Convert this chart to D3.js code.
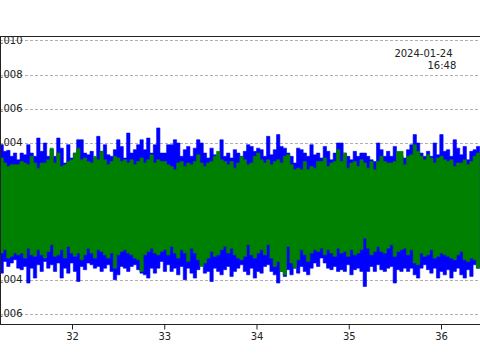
<!DOCTYPE html>
<html><head><meta charset="utf-8">
<script src="https://cdn.jsdelivr.net/npm/d3@7"></script>
<style>html,body{margin:0;padding:0;background:#fff;overflow:hidden}</style>
</head><body><svg id="c" width="480" height="360"></svg>
<script>
// ---- data (values in units of 1e-4) ----
const xTicks = [32, 33, 34, 35, 36];
const yTicks = [-0.006, -0.004, -0.002, 0, 0.002, 0.004, 0.006, 0.008, 0.010];
const stampLines = ["2024-01-24", "16:48"];
const tStart = 31.22, tEnd = 36.42;
const unit = 1e-4;

// per-interval maxima / minima of the blue series
const blueMax = [
39.0,35.1,35.7,32.2,34.1,30.2,34.1,33.1,39.0,34.1,32.2,42.9,35.1,40.0,32.2,36.1,32.2,42.9,37.0,28.3,39.0,31.2,34.1,41.9,41.9,34.1,33.1,35.1,31.2,43.9,35.1,39.0,33.1,32.2,36.1,41.9,38.0,31.2,45.8,34.1,36.1,39.0,41.9,36.1,42.9,34.1,39.0,48.8,
34.1,34.1,39.0,39.0,41.9,40.0,32.2,36.1,38.0,32.2,37.0,41.9,40.0,34.1,31.2,37.0,33.1,30.2,41.9,32.2,34.1,31.2,36.1,34.1,32.2,35.1,39.0,38.0,35.1,37.0,36.1,32.2,43.9,33.1,36.1,44.9,38.0,37.0,34.1,32.2,28.3,37.0,36.1,34.1,32.2,39.0,33.1,34.1,
31.2,38.0,35.1,30.2,34.1,40.0,40.0,34.1,32.2,30.2,35.1,32.2,34.1,34.1,32.2,30.2,29.2,40.0,36.1,32.2,35.1,32.2,38.0,29.2,32.2,31.2,36.1,39.0,44.9,40.0,34.1,32.2,35.1,32.2,40.0,33.1,44.9,35.1,36.1,32.2,41.9,37.0,33.1,38.0,30.2,35.1,36.1,38.0];
const blueMin = [
-36.1,-29.3,-32.2,-30.2,-28.3,-33.2,-34.1,-32.2,-41.9,-33.2,-39.0,-31.2,-35.1,-29.3,-33.2,-31.2,-35.1,-30.2,-39.0,-33.2,-36.1,-30.2,-35.1,-41.0,-32.2,-34.1,-30.2,-31.2,-33.2,-32.2,-35.1,-33.2,-31.2,-35.1,-40.0,-37.1,-32.2,-33.2,-35.1,-32.2,-31.2,-34.1,-36.1,-37.1,-39.0,-33.2,-36.1,-33.2,
-29.3,-35.1,-31.2,-35.1,-33.2,-37.1,-32.2,-40.0,-33.2,-36.1,-39.0,-34.1,-31.2,-36.1,-35.1,-41.0,-33.2,-35.1,-37.1,-34.1,-32.2,-38.0,-35.1,-33.2,-31.2,-35.1,-37.1,-33.2,-39.0,-35.1,-36.1,-32.2,-31.2,-35.1,-37.1,-41.9,-35.1,-38.0,-34.1,-37.1,-33.2,-36.1,-32.2,-35.1,-37.1,-33.2,-30.2,-32.2,
-27.3,-30.2,-33.2,-34.1,-32.2,-35.1,-34.1,-35.1,-31.2,-37.1,-34.1,-33.2,-35.1,-43.9,-35.1,-32.2,-35.1,-31.2,-34.1,-35.1,-33.2,-32.2,-41.9,-34.1,-35.1,-33.2,-35.1,-33.2,-37.1,-39.0,-33.2,-31.2,-34.1,-36.1,-33.2,-39.0,-35.1,-37.1,-34.1,-39.0,-35.1,-33.2,-37.1,-39.0,-34.1,-38.0,-31.2,-33.2];

// per-interval maxima / minima of the green series
const greenMax = [
31.2,28.3,26.3,27.3,27.3,27.3,29.2,28.3,27.3,32.2,28.3,25.3,28.3,28.3,30.2,37.0,28.3,34.1,26.3,27.3,29.2,30.2,34.1,37.0,30.2,31.2,29.2,28.3,32.2,30.2,35.1,30.2,27.3,29.2,32.2,31.2,29.2,30.2,28.3,30.2,27.3,29.2,31.2,28.3,30.2,33.1,28.3,30.2,
29.2,29.2,27.3,26.3,24.4,28.3,29.2,26.3,28.3,27.3,29.2,33.1,28.3,26.3,28.3,29.2,32.2,35.1,30.2,29.2,27.3,29.2,25.3,28.3,32.2,30.2,27.3,28.3,32.2,34.1,30.2,28.3,30.2,27.3,29.2,30.2,28.3,32.2,33.1,27.3,24.4,25.3,24.4,29.2,24.4,26.3,25.3,29.2,
29.2,31.2,26.3,28.3,29.2,36.1,29.2,34.1,25.3,28.3,29.2,26.3,30.2,28.3,25.3,29.2,24.4,29.2,32.2,29.2,28.3,28.3,29.2,35.1,35.1,27.3,32.2,33.1,39.0,35.1,32.2,30.2,33.1,31.2,28.3,31.2,32.2,30.2,29.2,30.2,26.3,28.3,28.3,30.2,27.3,29.2,32.2,34.1];
const greenMin = [
-24.4,-22.4,-27.3,-26.3,-24.4,-25.4,-24.4,-27.3,-21.5,-25.4,-26.3,-22.4,-25.4,-27.3,-23.4,-19.5,-26.3,-25.4,-22.4,-27.3,-20.5,-24.4,-26.3,-24.4,-28.3,-25.4,-21.5,-24.4,-27.3,-22.4,-23.4,-25.4,-27.3,-24.4,-33.2,-25.4,-23.4,-22.4,-24.4,-25.4,-27.3,-28.3,-35.1,-25.4,-23.4,-21.5,-24.4,-25.4,
-23.4,-22.4,-25.4,-20.5,-24.4,-27.3,-22.4,-24.4,-29.3,-21.5,-24.4,-28.3,-32.2,-30.2,-27.3,-23.4,-26.3,-25.4,-22.4,-20.5,-24.4,-21.5,-25.4,-27.3,-28.3,-26.3,-19.5,-25.4,-27.3,-24.4,-22.4,-25.4,-19.5,-27.3,-32.2,-29.3,-35.1,-37.1,-20.5,-30.2,-33.2,-28.3,-22.4,-25.4,-29.3,-24.4,-22.4,-23.4,
-21.5,-25.4,-22.4,-24.4,-26.3,-21.5,-24.4,-23.4,-26.3,-22.4,-25.4,-24.4,-22.4,-15.6,-21.5,-25.4,-23.4,-20.5,-23.4,-24.4,-21.5,-19.5,-26.3,-23.4,-22.4,-21.5,-25.4,-22.4,-30.2,-31.2,-24.4,-26.3,-25.4,-22.4,-27.3,-26.3,-24.4,-25.4,-26.3,-27.3,-28.3,-25.4,-23.4,-28.3,-29.3,-27.3,-28.3,-33.2];

// ---- chart ----
const W = 480, H = 360;
const plot = {left: 0, top: 36, right: 480, bottom: 324};
const svg = d3.select("#c");
const font = "DejaVu Sans";

const x = d3.scaleLinear().domain([31.2195, 36.4228]).range([plot.left, plot.right]);
const y = d3.scaleLinear().domain([-0.006585, 0.010257]).range([plot.bottom, plot.top]);

svg.append("defs").append("clipPath").attr("id", "clip")
  .append("rect").attr("x", plot.left).attr("y", plot.top)
  .attr("width", plot.right - plot.left).attr("height", plot.bottom - plot.top);

// grid
svg.append("g").selectAll("line").data(yTicks).join("line")
  .attr("x1", plot.left).attr("x2", plot.right)
  .attr("y1", d => Math.round(y(d)) + 0.5).attr("y2", d => Math.round(y(d)) + 0.5)
  .attr("stroke", "#b0b0b0").attr("stroke-width", 1).attr("stroke-dasharray", "3,2");

// y labels (drawn beneath the data)
svg.append("g").selectAll("text").data(yTicks).join("text")
  .attr("x", 22.5).attr("y", d => y(d)).attr("dy", "0.35em")
  .attr("text-anchor", "end").attr("font-family", font).attr("font-size", 10)
  .attr("fill", "#222").text(d3.format(".3f"));

// envelope of each densely sampled trace (max/min per interval)
function build(maxArr, minArr) {
  const n = Math.min(maxArr.length, minArr.length);
  const step = (tEnd - tStart) / n;
  const pts = [];
  for (let i = 0; i <= n; i++) {
    const k = Math.min(i, n - 1);
    pts.push({t: tStart + i * step, hi: maxArr[k] * unit, lo: minArr[k] * unit});
  }
  return pts;
}
const area = d3.area().curve(d3.curveStepAfter)
  .x(d => x(d.t)).y0(d => y(d.lo)).y1(d => y(d.hi));
const dataG = svg.append("g").attr("clip-path", "url(#clip)");
dataG.append("path").datum(build(blueMax, blueMin))
  .attr("d", area).attr("fill", "#0000ff").attr("stroke", "#0000ff").attr("stroke-width", 0.6);
dataG.append("path").datum(build(greenMax, greenMin))
  .attr("d", area).attr("fill", "#008000").attr("stroke", "#008000").attr("stroke-width", 0.6);

// frame
svg.append("line").attr("x1", 0).attr("x2", W).attr("y1", plot.top + 0.5).attr("y2", plot.top + 0.5).attr("stroke", "#222");
svg.append("line").attr("x1", 0).attr("x2", W).attr("y1", plot.bottom + 0.5).attr("y2", plot.bottom + 0.5).attr("stroke", "#222");
svg.append("line").attr("x1", 0.5).attr("x2", 0.5).attr("y1", plot.top).attr("y2", plot.bottom + 1).attr("stroke", "#222");

// x axis
const xAxis = svg.append("g").attr("transform", `translate(0,${plot.bottom + 0.5})`)
  .call(d3.axisBottom(x).tickValues(xTicks).tickSize(5).tickFormat(d3.format("d")));
xAxis.select(".domain").remove();
xAxis.selectAll("line").attr("stroke", "#222");
xAxis.selectAll("text").attr("font-family", font).attr("font-size", 10).attr("fill", "#222");

// timestamp
const stamp = svg.append("text").attr("font-family", font).attr("font-size", 10).attr("fill", "#222").attr("text-anchor", "end");
stamp.append("tspan").attr("x", 452.5).attr("y", 57.3).text(stampLines[0]);
stamp.append("tspan").attr("x", 456.3).attr("y", 69.3).text(stampLines[1]);
</script></body></html>
